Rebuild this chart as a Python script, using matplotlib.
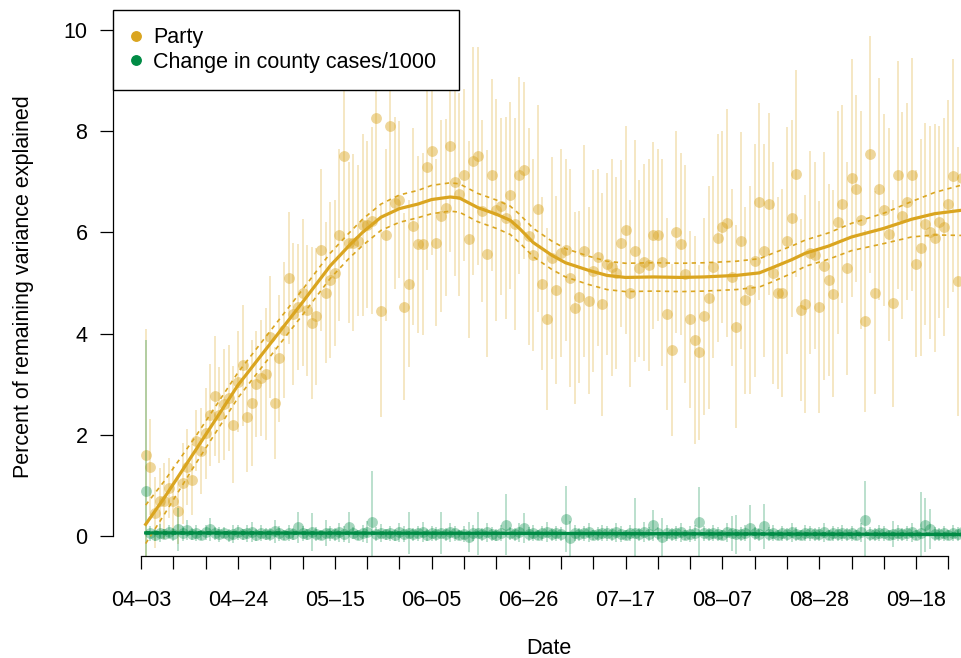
import numpy as np
import pandas as pd
import matplotlib
matplotlib.use("Agg")
from matplotlib import pyplot as plt
from matplotlib.lines import Line2D
import matplotlib.dates as mdates

plt.rcParams['font.family'] = ['Liberation Sans', 'DejaVu Sans']

# daily estimates, 04-04 .. 09-28
dates = pd.date_range("2020-04-04", "2020-09-28", freq="D")

party = [
    1.60, 1.36, 0.46, 0.69, 0.69, 0.95, 0.69, 0.49, 1.04, 1.36,
    1.11, 1.88, 1.67, 2.03, 2.39, 2.77, 2.39, 2.60, 2.73, 2.20,
    3.05, 3.37, 2.36, 2.63, 3.01, 3.12, 3.20, 3.93, 2.63, 3.51,
    4.07, 5.10, 4.39, 4.53, 4.81, 4.46, 4.21, 4.34, 5.66, 4.81,
    5.06, 5.20, 5.94, 7.51, 5.80, 5.80, 5.84, 6.14, 6.15, 6.23,
    8.26, 4.45, 5.94, 8.10, 6.58, 6.65, 4.53, 4.99, 6.12, 5.77,
    5.77, 7.30, 7.60, 5.80, 6.33, 6.49, 7.71, 6.99, 6.75, 7.13,
    5.86, 7.41, 7.51, 6.42, 5.58, 7.14, 6.44, 6.52, 6.28, 6.73,
    6.17, 7.13, 7.23, 5.92, 5.55, 6.47, 4.99, 4.28, 5.50, 4.86,
    5.59, 5.66, 5.10, 4.51, 4.73, 5.63, 4.65, 5.24, 5.51, 4.58,
    5.37, 5.31, 5.20, 5.79, 6.05, 4.80, 5.63, 5.29, 5.41, 5.36,
    5.94, 5.94, 5.41, 4.38, 3.68, 6.01, 5.77, 5.18, 4.28, 3.87,
    3.63, 4.34, 4.71, 5.31, 5.89, 6.10, 6.18, 5.11, 4.14, 5.84,
    4.66, 4.86, 5.44, 6.61, 5.64, 6.56, 5.20, 4.80, 4.80, 5.84,
    6.28, 7.16, 4.47, 4.58, 5.60, 5.55, 4.53, 5.34, 5.06, 4.79,
    6.20, 6.56, 5.29, 7.07, 6.86, 6.24, 4.25, 7.54, 4.81, 6.86,
    6.45, 5.96, 4.60, 7.14, 6.33, 6.61, 7.14, 5.38, 5.70, 6.17,
    6.00, 5.89, 6.21, 6.11, 6.56, 7.12, 5.03, 7.07,
]
party_err = [
    2.50, 0.95, 0.70, 0.65, 0.75, 0.60, 0.70, 0.65, 0.80, 0.75,
    0.70, 0.60, 0.85, 0.90, 1.00, 1.18, 0.95, 1.10, 1.05, 1.15,
    1.00, 1.20, 1.10, 1.25, 1.05, 1.15, 1.30, 1.20, 1.10, 1.25,
    1.35, 1.30, 1.40, 1.25, 1.45, 1.30, 1.50, 1.35, 1.60, 1.40,
    1.55, 1.45, 1.70, 2.05, 1.60, 1.75, 1.50, 1.80, 1.65, 1.85,
    2.10, 2.10, 1.70, 2.00, 1.70, 1.55, 1.85, 1.65, 1.95, 1.75,
    1.80, 2.05, 2.05, 1.65, 1.90, 1.75, 2.10, 1.85, 2.00, 1.70,
    1.95, 2.25, 2.15, 1.80, 2.05, 1.90, 2.20, 1.75, 2.00, 1.85,
    2.10, 1.95, 1.75, 2.15, 1.90, 2.05, 1.70, 1.80, 2.00, 1.85,
    2.05, 1.80, 2.15, 1.90, 1.70, 2.10, 1.85, 2.00, 1.75, 2.20,
    1.80, 2.15, 1.90, 1.65, 2.05, 1.85, 2.20, 1.75, 1.95, 2.10,
    1.85, 1.70, 2.05, 1.90, 1.70, 2.00, 1.80, 2.15, 1.75, 2.05,
    1.73, 1.95, 2.20, 1.80, 2.05, 1.90, 2.25, 1.75, 2.00, 2.15,
    1.85, 2.05, 2.30, 1.95, 2.10, 1.80, 2.20, 1.90, 2.05, 2.25,
    1.95, 2.05, 1.80, 2.15, 2.00, 1.85, 2.10, 2.25, 1.90, 2.05,
    2.20, 1.95, 2.10, 2.35, 1.85, 2.15, 1.80, 2.35, 2.00, 2.20,
    1.90, 2.10, 2.05, 2.25, 2.05, 1.95, 2.30, 1.85, 2.15, 2.00,
    2.10, 2.25, 1.90, 2.15, 2.05, 2.30, 2.65, 2.20,
]
cases = [
    0.88, 0.05, 0.02, 0.06, 0.04, 0.08, 0.03, 0.13, 0.05, 0.12,
    0.04, 0.06, 0.02, 0.07, 0.13, 0.05, 0.03, 0.06, 0.01, 0.04,
    0.07, 0.03, 0.05, 0.08, 0.02, 0.06, 0.04, 0.03, 0.09, 0.05,
    0.02, 0.06, 0.04, 0.17, 0.05, 0.03, 0.08, 0.04, 0.02, 0.06,
    0.05, 0.03, 0.07, 0.04, 0.17, 0.06, 0.02, 0.05, 0.08, 0.28,
    0.04, 0.06, 0.03, 0.05, 0.02, 0.07, 0.04, 0.06, 0.03, 0.05,
    0.08, 0.02, 0.05, 0.04, 0.06, 0.03, 0.07, 0.05, 0.02, 0.04,
    -0.02, 0.06, 0.05, 0.03, 0.07, 0.04, 0.02, 0.06, 0.22, 0.05,
    0.03, 0.07, 0.16, 0.04, 0.06, 0.02, 0.05, 0.08, 0.03, 0.05,
    0.04, 0.34, -0.05, 0.06, 0.03, 0.05, 0.07, 0.02, 0.04, 0.06,
    0.05, 0.03, 0.07, 0.04, 0.02, 0.06, 0.05, 0.03, 0.08, 0.04,
    0.21, 0.05, -0.02, 0.06, 0.03, 0.05, 0.07, 0.02, 0.04, 0.06,
    0.27, 0.05, 0.03, 0.06, 0.04, 0.02, 0.07, 0.05, 0.03, 0.04,
    0.06, 0.16, 0.05, 0.03, 0.19, 0.04, 0.06, 0.02, 0.05, 0.03,
    0.07, 0.04, 0.02, 0.06, 0.05, 0.03, 0.04, 0.07, 0.02, 0.05,
    0.04, 0.06, 0.03, 0.05, 0.02, 0.07, 0.31, 0.04, 0.03, 0.06,
    0.05, 0.02, 0.04, 0.06, 0.03, 0.05, 0.07, 0.02, 0.06, 0.22,
    0.14, 0.04, 0.03, 0.05, 0.02, 0.06, 0.04, 0.08,
]
cases_err = [
    3.00, 0.15, 0.12, 0.18, 0.10, 0.14, 0.12, 0.42, 0.15, 0.20,
    0.12, 0.16, 0.10, 0.14, 0.22, 0.12, 0.15, 0.11, 0.13, 0.17,
    0.14, 0.10, 0.16, 0.20, 0.12, 0.15, 0.11, 0.13, 0.22, 0.14,
    0.10, 0.15, 0.12, 0.30, 0.14, 0.11, 0.38, 0.13, 0.10, 0.25,
    0.14, 0.12, 0.18, 0.15, 0.30, 0.12, 0.10, 0.16, 0.22, 1.00,
    0.13, 0.17, 0.11, 0.14, 0.12, 0.18, 0.15, 0.42, 0.12, 0.14,
    0.20, 0.11, 0.15, 0.13, 0.42, 0.12, 0.18, 0.14, 0.10, 0.16,
    0.30, 0.15, 0.43, 0.12, 0.18, 0.14, 0.11, 0.16, 0.60, 0.13,
    0.12, 0.18, 0.30, 0.14, 0.16, 0.10, 0.15, 0.20, 0.12, 0.14,
    0.13, 0.65, 0.35, 0.16, 0.12, 0.15, 0.18, 0.10, 0.14, 0.16,
    0.14, 0.12, 0.18, 0.15, 0.10, 0.16, 0.70, 0.12, 0.20, 0.14,
    0.30, 0.13, 0.38, 0.16, 0.12, 0.14, 0.18, 0.10, 0.15, 0.16,
    0.70, 0.14, 0.12, 0.16, 0.13, 0.10, 0.18, 0.35, 0.38, 0.14,
    0.15, 0.45, 0.13, 0.12, 0.45, 0.14, 0.16, 0.10, 0.14, 0.12,
    0.18, 0.14, 0.10, 0.16, 0.15, 0.12, 0.14, 0.18, 0.10, 0.15,
    0.13, 0.16, 0.12, 0.14, 0.10, 0.18, 0.78, 0.14, 0.12, 0.16,
    0.14, 0.10, 0.25, 0.16, 0.12, 0.14, 0.18, 0.10, 0.80, 0.53,
    0.40, 0.13, 0.12, 0.15, 0.10, 0.16, 0.14, 0.20,
]

# smooth fits (days after 04-03), with CI half-width
fit_day = [1, 5, 12, 21, 28, 35, 41, 45, 48, 52, 56, 60, 63, 67, 69, 73, 77,
           80, 82, 85, 89, 92, 97, 101, 105, 111, 117, 122, 129, 134, 137,
           141, 144, 149, 154, 161, 167, 172, 178]
party_fit = [0.23, 0.75, 1.72, 2.98, 3.80, 4.62, 5.34, 5.73, 6.00, 6.30, 6.47,
             6.56, 6.65, 6.70, 6.68, 6.49, 6.36, 6.24, 6.08, 5.80, 5.55, 5.40,
             5.25, 5.15, 5.11, 5.12, 5.11, 5.12, 5.15, 5.20, 5.31, 5.46, 5.59,
             5.73, 5.91, 6.08, 6.26, 6.37, 6.44]
party_ci = [0.38, 0.33, 0.27, 0.25, 0.25, 0.25, 0.25, 0.25, 0.26, 0.26, 0.27,
            0.27, 0.28, 0.28, 0.28, 0.28, 0.28, 0.28, 0.28, 0.28, 0.28, 0.28,
            0.28, 0.28, 0.28, 0.28, 0.28, 0.28, 0.28, 0.28, 0.28, 0.27, 0.26,
            0.26, 0.27, 0.30, 0.35, 0.42, 0.50]
cases_fit_day = [1, 90, 178]
cases_fit = [0.06, 0.05, 0.03]
cases_ci = [0.02, 0.015, 0.02]

GOLD = "#DAA520"
GREEN = "#008B45"

fig = plt.figure(figsize=(9.61, 6.58), dpi=100)
ax = fig.add_axes([113 / 961, 1 - 556.2 / 658, 882 / 961, 546.4 / 658])

x = mdates.date2num(dates)
p = np.array(party)
pe = np.array(party_err)
c = np.array(cases)
ce = np.array(cases_err)

ax.vlines(x, p - pe, p + pe, color=GOLD, alpha=0.3, lw=1.25)
ax.plot(x, p, "o", color=GOLD, alpha=0.45, ms=7.8, mec="none")
ax.vlines(x, c - ce, c + ce, color=GREEN, alpha=0.3, lw=1.25)
ax.plot(x, c, "o", color=GREEN, alpha=0.35, ms=7.8, mec="none")

base = pd.Timestamp("2020-04-03")
fx = mdates.date2num(base + pd.to_timedelta(fit_day, unit="D"))
pf = np.array(party_fit)
pc = np.array(party_ci)
ax.plot(fx, pf, color=GOLD, lw=2.3)
ax.plot(fx, pf + pc, color=GOLD, lw=1.2, ls=(0, (2.6, 2.6)))
ax.plot(fx, pf - pc, color=GOLD, lw=1.2, ls=(0, (2.6, 2.6)))

gx = mdates.date2num(base + pd.to_timedelta(cases_fit_day, unit="D"))
cf = np.array(cases_fit)
cc = np.array(cases_ci)
ax.plot(gx, cf, color=GREEN, lw=2.3)
ax.plot(gx, cf + cc, color=GREEN, lw=1.2, ls=(0, (2.6, 2.6)))
ax.plot(gx, cf - cc, color=GREEN, lw=1.2, ls=(0, (2.6, 2.6)))

pad = 0.04 * (x[-1] - x[0])
ax.set_xlim(x[0] - pad, x[-1] + pad)
ax.set_ylim(-0.4, 10.4)

ticks = pd.date_range("2020-04-03", "2020-09-25", freq="7D")
tnum = mdates.date2num(ticks)
ax.set_xticks(tnum)
ax.set_xticklabels([t.strftime("%m\u2013%d") if i % 3 == 0 else ""
                    for i, t in enumerate(ticks)])
ax.set_yticks([0, 2, 4, 6, 8, 10])

for s in ["top", "right"]:
    ax.spines[s].set_visible(False)
ax.spines["left"].set_bounds(0, 10)
ax.spines["bottom"].set_bounds(tnum[0], tnum[-1])
for s in ["left", "bottom"]:
    ax.spines[s].set_linewidth(0.9)
ax.tick_params(axis="both", direction="out", length=9.4, width=0.9,
               labelsize=15.5)
ax.tick_params(axis="x", pad=15)
ax.tick_params(axis="y", pad=9)

fig.text(24 / 961, 1 - 287 / 658, "Percent of remaining variance explained",
         rotation=90, ha="center", va="center", fontsize=15.5)
fig.text((113 + 882 * 0.5) / 961 - 0.005, 1 - 648 / 658, "Date",
         ha="center", va="center", fontsize=15.5)

handles = [Line2D([], [], ls="none", marker="o", color=GOLD, ms=6.8),
           Line2D([], [], ls="none", marker="o", color=GREEN, ms=6.8)]
leg = ax.legend(handles, ["Party", "Change in county cases/1000"],
                loc="upper left", mode="expand",
                bbox_to_anchor=(113 / 961, 1 - 10 / 658, 346 / 961, 0),
                bbox_transform=fig.transFigure, borderaxespad=0,
                fontsize=15.5, frameon=True, fancybox=False,
                borderpad=0.8, labelspacing=0.17, handlelength=0.5,
                handletextpad=0.55)
leg.get_frame().set_edgecolor("black")
leg.get_frame().set_linewidth(1.0)
leg.get_frame().set_alpha(None)
leg.get_frame().set_facecolor("white")

fig.savefig("out.png", dpi=100)
